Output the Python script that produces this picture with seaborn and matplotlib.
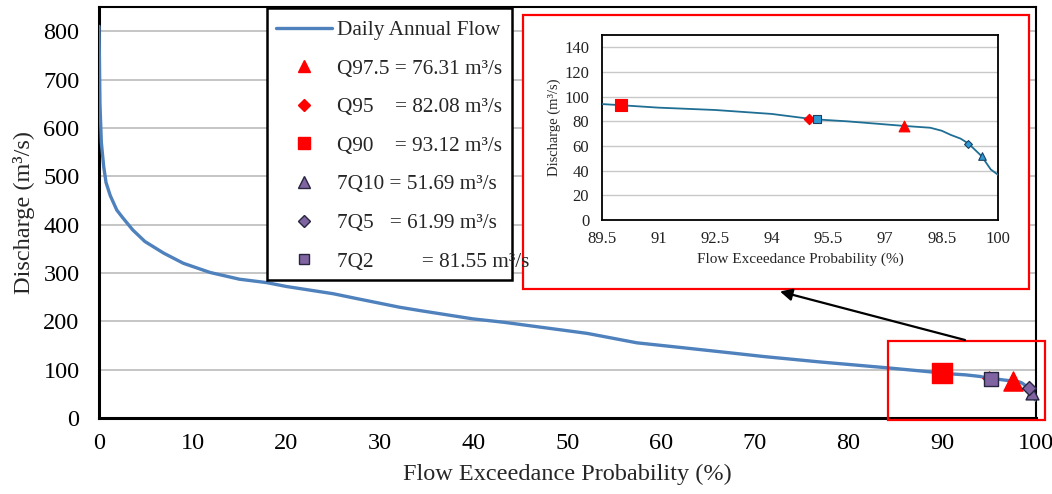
import numpy as np
import pandas as pd
import matplotlib
matplotlib.use("Agg")
import matplotlib.pyplot as plt
import seaborn as sns
from matplotlib.lines import Line2D
from matplotlib.patches import Rectangle

# ---------------- data ----------------
exceedance = [0, 0.1, 0.25, 0.5, 0.75, 1.2, 1.9, 2.5, 3.6, 4.9, 6.9, 9.0, 11.85,
              15.0, 17.9, 20.0, 25.0, 27.5, 32.1, 34.3, 39.9, 43.2, 52.1, 57.4,
              62.0, 66.3, 71.0, 76.9, 84.0, 87.6, 89.5, 90.0, 91.0, 92.5, 94.0,
              95.0, 95.19, 96.0, 97.5, 98.2, 98.5, 98.75, 99.0, 99.21, 99.56,
              99.8, 100.0]
discharge = [810, 650, 570, 520, 487, 460, 430, 415, 389, 365, 341, 320, 301,
             287, 280, 272, 257, 247, 229, 222, 205, 198, 175, 155.5,
             146, 137, 127, 116, 104, 97.5, 94.0, 93.1, 91.1, 89.2, 86.0,
             82.1, 81.55, 80.0, 76.3, 74.8, 72.4, 68.9, 66.0, 62.0, 51.7,
             41.0, 36.5]

stat_names = ["Q97.5", "Q95", "Q90", "7Q10", "7Q5", "7Q2"]
stat_x = [97.5, 95.0, 90.0, 99.56, 99.21, 95.19]
stat_y = [76.31, 82.08, 93.12, 51.69, 61.99, 81.55]
legend_labels = ["Daily Annual Flow",
                 "Q97.5 = 76.31 m\u00b3/s",
                 "Q95    = 82.08 m\u00b3/s",
                 "Q90    = 93.12 m\u00b3/s",
                 "7Q10 = 51.69 m\u00b3/s",
                 "7Q5   = 61.99 m\u00b3/s",
                 "7Q2         = 81.55 m\u00b3/s"]

main_yticks = [0, 100, 200, 300, 400, 500, 600, 700, 800]
main_xticks = [0, 10, 20, 30, 40, 50, 60, 70, 80, 90, 100]
inset_xticks = [89.5, 91, 92.5, 94, 95.5, 97, 98.5, 100]
inset_xticklabels = ["89.5", "91", "92.5", "94", "95.5", "97", "98.5", "100"]
inset_yticks = [0, 20, 40, 60, 80, 100, 120, 140]

df = pd.DataFrame({"x": exceedance, "y": discharge})
df_in = df[df["x"] >= 89.5]

# ---------------- style ----------------
sns.set_theme(style="white")
plt.rcParams["font.family"] = ["Liberation Serif", "DejaVu Serif"]
plt.rcParams["axes.unicode_minus"] = False

W, H = 1052, 494
fig = plt.figure(figsize=(W / 100, H / 100), dpi=100)
fig.patch.set_facecolor("white")

def fx(px):
    return px / W

def fy(py):
    return 1 - py / H

# ---------------- main axes ----------------
ax = fig.add_axes([fx(99), fy(418), fx(1036) - fx(99), fy(7) - fy(418)])
sns.lineplot(data=df, x="x", y="y", ax=ax, color="#4F81BD", linewidth=2.4,
             sort=False, estimator=None, legend=False, zorder=3)

purple = "#8064A2"
edge = "#262640"
main_styles = {
    "Q97.5": dict(marker="^", s=190, color="#FF0000", edgecolor="#FF0000"),
    "Q95": dict(marker="D", s=45, color="#FF0000", edgecolor="#FF0000"),
    "Q90": dict(marker="s", s=190, color="#FF0000", edgecolor="#FF0000"),
    "7Q10": dict(marker="^", s=85, color=purple, edgecolor=edge),
    "7Q5": dict(marker="D", s=50, color=purple, edgecolor=edge),
    "7Q2": dict(marker="s", s=100, color=purple, edgecolor=edge),
}
for name, xv, yv in zip(stat_names, stat_x, stat_y):
    st = main_styles[name]
    sns.scatterplot(x=[xv], y=[yv], ax=ax, marker=st["marker"], s=st["s"],
                    color=st["color"], edgecolor=st["edgecolor"], linewidth=1,
                    zorder=5, legend=False, clip_on=False)

ax.set_xlim(0, 100)
ax.set_ylim(0, 850)
ax.set_xticks(main_xticks)
ax.set_yticks(main_yticks)
ax.tick_params(axis="both", length=0, labelsize=17.5, colors="black")
ax.tick_params(axis="x", pad=11)
ax.tick_params(axis="y", pad=14)
ax.yaxis.grid(True, color="#C0C0C0", linewidth=1.3)
ax.xaxis.grid(False)
ax.set_axisbelow(True)
for side, sp in ax.spines.items():
    sp.set_visible(True)
    sp.set_color("black")
    sp.set_linewidth(2.2 if side in ("left", "bottom") else 1.5)
ax.set_xlabel("Flow Exceedance Probability (%)", fontsize=17.5, labelpad=7)
ax.set_ylabel("Discharge (m\u00b3/s)", fontsize=17.5, labelpad=6)

# legend box (drawn manually so that the last entry overflows it like the original)
ax.add_patch(Rectangle((fx(267), fy(280)), fx(512) - fx(267), fy(8) - fy(280),
                       transform=fig.transFigure, facecolor="white",
                       edgecolor="black", linewidth=1.8, zorder=6, clip_on=False))

handles = [Line2D([], [], color="#4F81BD", lw=2.4)]
leg_styles = [("^", "#FF0000", "#FF0000", 8),
              ("D", "#FF0000", "#FF0000", 6),
              ("s", "#FF0000", "#FF0000", 8),
              ("^", purple, edge, 8),
              ("D", purple, edge, 6.5),
              ("s", purple, edge, 7.5)]
for m, c, e, ms in leg_styles:
    handles.append(Line2D([], [], linestyle="none", marker=m, markersize=ms,
                          markerfacecolor=c, markeredgecolor=e, markeredgewidth=1))
leg = ax.legend(handles, legend_labels, loc="upper left",
                bbox_to_anchor=(fx(272), fy(16)), bbox_transform=fig.transFigure,
                frameon=False, fontsize=15.3, handlelength=2.6, handletextpad=0.25,
                labelspacing=0.88, borderaxespad=0, borderpad=0.2)
leg.set_zorder(7)

# white box with red border that holds the inset
ax.add_patch(Rectangle((fx(522.5), fy(288.5)), fx(1028.5) - fx(522.5), fy(15) - fy(288.5),
                       transform=fig.transFigure, facecolor="white",
                       edgecolor="#FF0000", linewidth=1.6, zorder=6, clip_on=False))
# red zoom box around the low-flow end
ax.add_patch(Rectangle((fx(888), fy(419.5)), fx(1044.5) - fx(888), fy(340.5) - fy(419.5),
                       transform=fig.transFigure, facecolor="none",
                       edgecolor="#FF0000", linewidth=1.6, zorder=8, clip_on=False))
# arrow
ax.annotate("", xy=(fx(780), fy(291.5)), xytext=(fx(965), fy(340)),
            xycoords="figure fraction", textcoords="figure fraction",
            arrowprops=dict(arrowstyle="-|>", color="black", lw=1.6,
                            mutation_scale=18, shrinkA=0, shrinkB=0),
            zorder=9)

# ---------------- inset axes ----------------
axi = fig.add_axes([fx(601.7), fy(220), fx(998.3) - fx(601.7), fy(35) - fy(220)])
axi.set_zorder(10)
sns.lineplot(data=df_in, x="x", y="y", ax=axi, color="#1F6E94", linewidth=1.3,
             sort=False, estimator=None, legend=False, zorder=3)

blue = "#2E9AD4"
inset_styles = {
    "Q97.5": dict(marker="^", s=60, color="#FF0000", edgecolor="#FF0000"),
    "Q95": dict(marker="D", s=28, color="#FF0000", edgecolor="#FF0000"),
    "Q90": dict(marker="s", s=80, color="#FF0000", edgecolor="#FF0000"),
    "7Q10": dict(marker="^", s=30, color=blue, edgecolor="#1F3F5F"),
    "7Q5": dict(marker="D", s=16, color=blue, edgecolor="#1F3F5F"),
    "7Q2": dict(marker="s", s=32, color=blue, edgecolor="#1F3F5F"),
}
for name, xv, yv in zip(stat_names, stat_x, stat_y):
    st = inset_styles[name]
    sns.scatterplot(x=[xv], y=[yv], ax=axi, marker=st["marker"], s=st["s"],
                    color=st["color"], edgecolor=st["edgecolor"], linewidth=0.8,
                    zorder=5, legend=False)

axi.set_xlim(89.5, 100)
axi.set_ylim(0, 150)
axi.set_xticks(inset_xticks)
axi.set_xticklabels(inset_xticklabels)
axi.set_yticks(inset_yticks)
axi.tick_params(axis="both", length=0, labelsize=12, colors="#222222")
axi.tick_params(axis="x", pad=8)
axi.tick_params(axis="y", pad=9)
axi.yaxis.grid(True, color="#C8C8C8", linewidth=1.0)
axi.xaxis.grid(False)
axi.set_axisbelow(True)
for sp in axi.spines.values():
    sp.set_visible(True)
    sp.set_color("black")
    sp.set_linewidth(1.3)
axi.set_xlabel("Flow Exceedance Probability (%)", fontsize=11, labelpad=4)
axi.set_ylabel("Discharge (m\u00b3/s)", fontsize=10.5, labelpad=2)

fig.savefig("out.png", dpi=100, facecolor="white")
